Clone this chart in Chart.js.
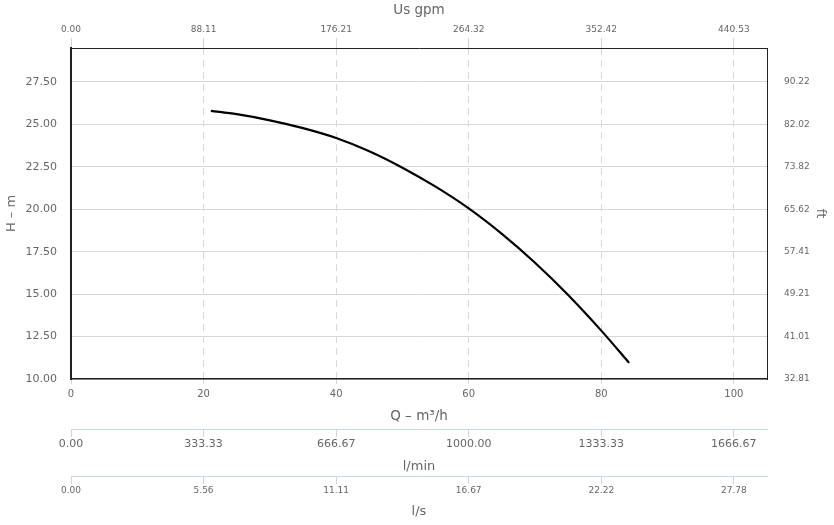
<!DOCTYPE html>
<html>
<head>
<meta charset="utf-8">
<script src="https://cdn.jsdelivr.net/npm/chart.js@4"></script>
<style>
  html, body { margin: 0; padding: 0; background: #fff; }
  #wrap { width: 834px; height: 525px; }
</style>
</head>
<body>
<div id="wrap"><canvas id="c"></canvas></div>
<script>
// pump curve: flow Q (m3/h) vs head H (m)
const flowQ = [21.1, 25, 30, 35, 40, 45, 50, 55, 60, 65, 70, 75, 80, 84.2];
const headH = [25.8, 25.6, 25.24, 24.78, 24.2, 23.42, 22.45, 21.33, 20.05, 18.55, 16.85, 14.95, 12.85, 10.95];

const qTicks = [0, 20, 40, 60, 80, 100];
const hTicks = [10, 12.5, 15, 17.5, 20, 22.5, 25, 27.5];
const gpmLabels = ['0.00', '88.11', '176.21', '264.32', '352.42', '440.53'];
const lminLabels = ['0.00', '333.33', '666.67', '1000.00', '1333.33', '1666.67'];
const lsLabels = ['0.00', '5.56', '11.11', '16.67', '22.22', '27.78'];
const ftLabels = ['32.81', '41.01', '49.21', '57.41', '65.62', '73.82', '82.02', '90.22'];

const txt = '#666666';
const axisBlue = '#ccd6eb';
const frame = '#222222';
const gridGrey = '#d8d8d8';
const font = 'DejaVu Sans';

const fixTicks = (vals) => (axis) => { axis.ticks = vals.map(v => ({ value: v })); };
const labelFrom = (vals, labels) => (v) => {
  const i = vals.indexOf(v);
  return i < 0 ? '' : labels[i];
};
const fixWidth = (w) => (axis) => { axis.width = w; };
const fixHeight = (h) => (axis) => { axis.height = h; };

function flowAxis(labels, weight, size, title, h, titleBottom) {
  return {
    type: 'linear', position: 'bottom', min: 0, max: 105, weight,
    afterBuildTicks: fixTicks(qTicks),
    afterFit: fixHeight(h),
    ticks: { color: txt, font: { family: font, size }, padding: 1, maxRotation: 0,
             callback: labelFrom(qTicks, labels) },
    grid: { drawOnChartArea: false, drawTicks: true, tickLength: 8, tickColor: axisBlue },
    border: { display: true, color: axisBlue, width: 1 },
    title: { display: true, text: title, color: txt, font: { family: font, size: 13 },
             padding: { top: 2, bottom: titleBottom } },
  };
}

new Chart(document.getElementById('c'), {
  type: 'line',
  data: {
    datasets: [{
      label: 'H',
      data: flowQ.map((q, i) => ({ x: q, y: headH[i] })),
      borderColor: '#000000',
      borderWidth: 2.2,
      pointRadius: 0,
      cubicInterpolationMode: 'monotone',
      fill: false,
      xAxisID: 'x',
      yAxisID: 'y',
    }],
  },
  options: {
    responsive: true,
    maintainAspectRatio: false,
    animation: false,
    layout: { padding: { left: 0, right: 2, top: 0, bottom: 0 } },
    plugins: { legend: { display: false }, tooltip: { enabled: false } },
    scales: {
      x: {
        type: 'linear', position: 'bottom', min: 0, max: 105, weight: 0,
        afterBuildTicks: fixTicks(qTicks),
        afterFit: fixHeight(50),
        ticks: { color: txt, font: { family: font, size: 10 }, padding: 4, maxRotation: 0,
                 callback: (v) => String(v) },
        grid: { color: gridGrey, lineWidth: 1, drawTicks: true, tickLength: 5, tickColor: axisBlue },
        border: { display: true, color: frame, width: 1.5, dash: [7, 5] },
        title: { display: true, text: 'Q – m³/h', color: txt, font: { family: font, size: 13.5 },
                 padding: { top: 4, bottom: 4 } },
      },
      xLmin: flowAxis(lminLabels, 1, 11, 'l/min', 47, 2),
      xLs: flowAxis(lsLabels, 2, 9, 'l/s', 49, 6),
      xTop: {
        type: 'linear', position: 'top', min: 0, max: 105,
        afterBuildTicks: fixTicks(qTicks),
        afterFit: fixHeight(48),
        ticks: { color: txt, font: { family: font, size: 9 }, padding: 3, maxRotation: 0,
                 callback: labelFrom(qTicks, gpmLabels) },
        grid: { drawOnChartArea: false, drawTicks: true, tickLength: 10, tickColor: axisBlue },
        border: { display: true, color: frame, width: 1 },
        title: { display: true, text: 'Us gpm', color: txt, font: { family: font, size: 13.5 },
                 padding: { top: 2, bottom: 3 } },
      },
      y: {
        type: 'linear', position: 'left', min: 10, max: 29.5,
        afterBuildTicks: fixTicks(hTicks),
        afterFit: fixWidth(71),
        ticks: { color: txt, font: { family: font, size: 11 }, padding: 14,
                 callback: (v) => v.toFixed(2) },
        grid: { color: gridGrey, lineWidth: 1, drawTicks: false },
        border: { display: true, color: frame, width: 2 },
        title: { display: true, text: 'H – m', color: txt, font: { family: font, size: 13 },
                 padding: { top: 4, bottom: 4 } },
      },
      yFt: {
        type: 'linear', position: 'right', min: 10, max: 29.5,
        afterBuildTicks: fixTicks(hTicks),
        afterFit: fixWidth(65),
        ticks: { color: txt, font: { family: font, size: 9 }, padding: 17,
                 callback: labelFrom(hTicks, ftLabels) },
        grid: { drawOnChartArea: false, drawTicks: false },
        border: { display: true, color: frame, width: 1 },
        title: { display: true, text: 'ft', color: txt, font: { family: font, size: 13 },
                 padding: { top: 4, bottom: 0 } },
      },
    },
  },
});
</script>
</body>
</html>
